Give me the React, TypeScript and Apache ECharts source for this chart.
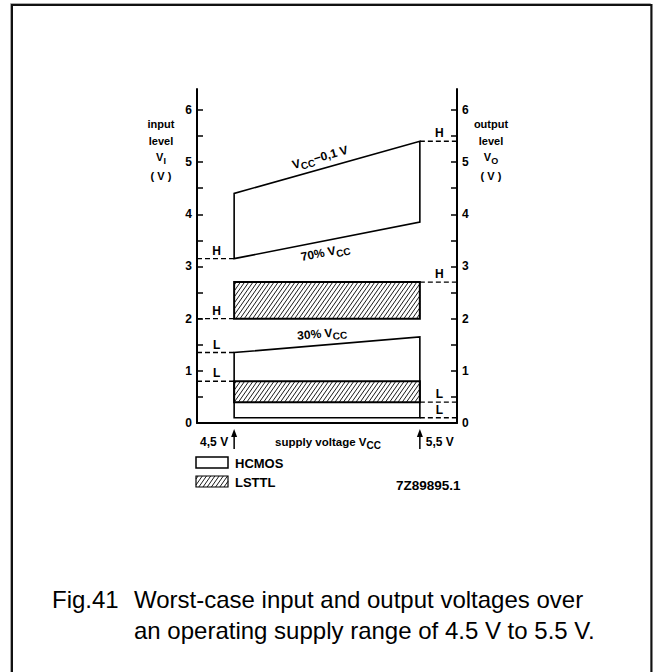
import React, { useEffect, useRef } from "react";
import * as echarts from "echarts";

// ---- data (volts) ----
const supplyVoltage = [4.5, 5.5];
const hcmosVOH = [4.4, 5.4]; // VCC - 0.1 V
const hcmosVIH = [3.15, 3.85]; // 70% VCC
const hcmosVIL = [1.35, 1.65]; // 30% VCC
const hcmosVOL = [0.1, 0.1];
const lsttlVOH = [2.7, 2.7];
const lsttlVIH = [2.0, 2.0];
const lsttlVIL = [0.8, 0.8];
const lsttlVOL = [0.4, 0.4];

const leftLevelValues = [3.15, 2.0, 1.35, 0.8];
const leftLevelLabels = ["H", "H", "L", "L"];
const rightLevelValues = [5.4, 2.7, 0.4, 0.1];
const rightLevelLabels = ["H", "H", "L", "L"];

const edgeLabels = ["{v|V}{s|CC}{v|\u22120,1 V}", "{v|70% V}{s|CC}", "{v|30% V}{s|CC}"];
const supplyLabels = ["4,5 V", "5,5 V"];

const yTickValues = [0, 0.5, 1, 1.5, 2, 2.5, 3, 3.5, 4, 4.5, 5, 5.5, 6];
const yLabelValues = [0, 1, 2, 3, 4, 5, 6];
const xRange = [4.3, 5.7];
const yRange = [0, 6.4];

const FONT = "'Liberation Sans', Arial, Helvetica, sans-serif";

function hatchLines(x0: number, y0: number, x1: number, y1: number, step: number, a: number, lw: number) {
  const out: any[] = [];
  const cStart = x0 + a * y0;
  const cEnd = x1 + a * y1;
  for (let c = cStart + step / 2; c < cEnd; c += step) {
    const xa = Math.max(x0, c - a * y1);
    const ya = (c - xa) / a;
    const xb = Math.min(x1, c - a * y0);
    const yb = (c - xb) / a;
    if (xb > xa) {
      out.push({
        type: "line",
        shape: { x1: xa, y1: ya, x2: xb, y2: yb },
        style: { stroke: "#000", lineWidth: lw },
        silent: true,
      });
    }
  }
  return out;
}

const richText = {
  v: { fontSize: 12, fontWeight: "bold", fontFamily: FONT, fill: "#000" },
  s: { fontSize: 10, fontWeight: "bold", fontFamily: FONT, fill: "#000", padding: [7, 0, 0, 0] },
};
const richSmall = {
  v: { fontSize: 11, fontWeight: "bold", fontFamily: FONT, fill: "#000" },
  s: { fontSize: 9, fontWeight: "bold", fontFamily: FONT, fill: "#000", padding: [7, 0, 0, 0] },
};

export default function App() {
  const ref = useRef<HTMLDivElement>(null);
  useEffect(() => {
    if (!ref.current) return;
    const chart = echarts.init(ref.current, null, { renderer: "svg" });

    const hcmosData = [
      [supplyVoltage[0], supplyVoltage[1], hcmosVIH[0], hcmosVIH[1], hcmosVOH[0], hcmosVOH[1]],
      [supplyVoltage[0], supplyVoltage[1], hcmosVOL[0], hcmosVOL[1], hcmosVIL[0], hcmosVIL[1]],
    ];
    const lsttlData = [
      [supplyVoltage[0], supplyVoltage[1], lsttlVIH[0], lsttlVOH[0]],
      [supplyVoltage[0], supplyVoltage[1], lsttlVOL[0], lsttlVIL[0]],
    ];
    // [xA, yA, xB, yB, labelIndex, side(1=above,-1=below)]
    const edgeData = [
      [supplyVoltage[0], hcmosVOH[0], supplyVoltage[1], hcmosVOH[1], 0, 1],
      [supplyVoltage[0], hcmosVIH[0], supplyVoltage[1], hcmosVIH[1], 1, -1],
      [supplyVoltage[0], hcmosVIL[0], supplyVoltage[1], hcmosVIL[1], 2, 1],
    ];
    const leftLevelData = leftLevelValues.map((v, i) => [supplyVoltage[0], v, i, 0]);
    const rightLevelData = rightLevelValues.map((v, i) => [supplyVoltage[1], v, i, 1]);
    const arrowData = supplyVoltage.map((v, i) => [v, 0, i]);

    const option: any = {
      animation: false,
      backgroundColor: "#fff",
      grid: { left: 197, right: 196, top: 89, bottom: 249, containLabel: false },
      xAxis: {
        type: "value",
        min: xRange[0],
        max: xRange[1],
        axisLine: { show: true, lineStyle: { color: "#000", width: 2 } },
        axisTick: { show: false },
        axisLabel: { show: false },
        splitLine: { show: false },
      },
      yAxis: [0, 1].map((k) => ({
        type: "value",
        min: yRange[0],
        max: yRange[1],
        position: k === 0 ? "left" : "right",
        axisLine: { show: true, onZero: false, lineStyle: { color: "#000", width: 2 } },
        axisTick: {
          show: true,
          inside: true,
          length: 6,
          customValues: yTickValues,
          lineStyle: { color: "#000", width: 1.5 },
        },
        axisLabel: {
          customValues: yLabelValues,
          color: "#000",
          fontWeight: "bold",
          fontSize: 12,
          fontFamily: FONT,
          margin: 5,
        },
        splitLine: { show: false },
      })),
      series: [
        {
          type: "custom",
          name: "HCMOS",
          z: 2,
          data: hcmosData,
          encode: { x: [0, 1], y: [2, 3, 4, 5] },
          renderItem: (params: any, api: any) => {
            const x0 = api.value(0), x1 = api.value(1);
            const a = api.coord([x0, api.value(2)]);
            const b = api.coord([x1, api.value(3)]);
            const c = api.coord([x1, api.value(5)]);
            const d = api.coord([x0, api.value(4)]);
            return {
              type: "polygon",
              shape: { points: [a, b, c, d] },
              style: { fill: "none", stroke: "#000", lineWidth: 1.6 },
            };
          },
        },
        {
          type: "custom",
          name: "LSTTL",
          z: 3,
          data: lsttlData,
          encode: { x: [0, 1], y: [2, 3] },
          renderItem: (params: any, api: any) => {
            const p0 = api.coord([api.value(0), api.value(3)]);
            const p1 = api.coord([api.value(1), api.value(2)]);
            const x0 = p0[0], y0 = p0[1], x1 = p1[0], y1 = p1[1];
            const children: any[] = [
              { type: "rect", shape: { x: x0, y: y0, width: x1 - x0, height: y1 - y0 }, style: { fill: "#fff", stroke: "none" } },
              ...hatchLines(x0, y0, x1, y1, 4.2, 0.7, 0.9),
              { type: "rect", shape: { x: x0, y: y0, width: x1 - x0, height: y1 - y0 }, style: { fill: "none", stroke: "#000", lineWidth: 2 } },
            ];
            return { type: "group", children };
          },
        },
        {
          type: "custom",
          name: "edgeLabels",
          z: 4,
          data: edgeData,
          encode: { x: [0, 2], y: [1, 3] },
          renderItem: (params: any, api: any) => {
            const pa = api.coord([api.value(0), api.value(1)]);
            const pb = api.coord([api.value(2), api.value(3)]);
            const mx = (pa[0] + pb[0]) / 2;
            const my = (pa[1] + pb[1]) / 2;
            const rot = Math.atan2(pa[1] - pb[1], pb[0] - pa[0]);
            const above = api.value(5) > 0;
            return {
              type: "text",
              x: mx,
              y: my,
              rotation: rot,
              style: {
                x: -4,
                y: above ? -3 : 3,
                text: edgeLabels[api.value(4)],
                rich: richText,
                align: "center",
                verticalAlign: above ? "bottom" : "top",
              },
            };
          },
        },
        ...[
          { data: leftLevelData, labels: leftLevelLabels },
          { data: rightLevelData, labels: rightLevelLabels },
        ].map((cfg) => ({
          type: "custom",
          z: 4,
          data: cfg.data,
          encode: { x: 0, y: 1 },
          renderItem: (params: any, api: any) => {
            const p = api.coord([api.value(0), api.value(1)]);
            const cs = params.coordSys;
            const right = api.value(3) === 1;
            const xs = right ? p[0] : cs.x;
            const xe = right ? cs.x + cs.width : p[0];
            return {
              type: "group",
              children: [
                {
                  type: "line",
                  shape: { x1: xs, y1: p[1], x2: xe, y2: p[1] },
                  style: { stroke: "#000", lineWidth: 1.4, lineDash: [5, 3] },
                },
                {
                  type: "text",
                  style: {
                    x: (xs + xe) / 2 + 1,
                    y: p[1] - 2,
                    text: cfg.labels[api.value(2)],
                    align: "center",
                    verticalAlign: "bottom",
                    fill: "#000",
                    fontSize: 12,
                    fontWeight: "bold",
                    fontFamily: FONT,
                  },
                },
              ],
            };
          },
        })),
        {
          type: "custom",
          name: "supplyArrows",
          z: 4,
          data: arrowData,
          encode: { x: 0, y: 1 },
          renderItem: (params: any, api: any) => {
            const p = api.coord([api.value(0), api.value(1)]);
            const i = api.value(2);
            const x = p[0];
            const top = p[1] + 6;
            const bottom = p[1] + 26;
            const left = i === 0;
            return {
              type: "group",
              children: [
                { type: "line", shape: { x1: x, y1: top + 5, x2: x, y2: bottom }, style: { stroke: "#000", lineWidth: 1.5 } },
                { type: "polygon", shape: { points: [[x, top], [x - 3, top + 8], [x + 3, top + 8]] }, style: { fill: "#000" } },
                {
                  type: "text",
                  style: {
                    x: left ? x - 6 : x + 6,
                    y: p[1] + 19,
                    text: supplyLabels[i],
                    align: left ? "right" : "left",
                    verticalAlign: "middle",
                    fill: "#000",
                    fontSize: 12,
                    fontWeight: "bold",
                    fontFamily: FONT,
                  },
                },
              ],
            };
          },
        },
      ],
      graphic: [
        { type: "rect", shape: { x: 10.5, y: 3.5, width: 640, height: 700 }, style: { fill: "none", stroke: "#aaa", lineWidth: 1 }, silent: true },
        { type: "rect", shape: { x: 12, y: 5, width: 639.5, height: 700 }, style: { fill: "none", stroke: "#111", lineWidth: 2 }, silent: true },
        // axis titles
        ...["input", "level", "{v|V}{s|I}", "( V )"].map((t, i) => ({
          type: "text",
          style: {
            x: 161, y: [124, 141, 157, 176][i], text: t, rich: richSmall, align: "center", verticalAlign: "middle",
            fill: "#000", fontSize: 11, fontWeight: "bold", fontFamily: FONT,
          },
        })),
        ...["output", "level", "{v|V}{s|O}", "( V )"].map((t, i) => ({
          type: "text",
          style: {
            x: 491, y: [124, 141, 157, 176][i], text: t, rich: richSmall, align: "center", verticalAlign: "middle",
            fill: "#000", fontSize: 11, fontWeight: "bold", fontFamily: FONT,
          },
        })),
        {
          type: "text",
          style: {
            x: 328, y: 442, text: "{t|supply voltage V}{s|CC}",
            rich: { t: { fontSize: 11.5, fontWeight: "bold", fontFamily: FONT, fill: "#000" }, s: { ...richText.s, fontSize: 10 } },
            align: "center", verticalAlign: "middle",
          },
        },
        // legend
        { type: "rect", shape: { x: 196, y: 457, width: 32, height: 11 }, style: { fill: "#fff", stroke: "#000", lineWidth: 1.5 } },
        {
          type: "text",
          style: { x: 235, y: 463, text: "HCMOS", align: "left", verticalAlign: "middle", fill: "#000", fontSize: 13, fontWeight: "bold", fontFamily: FONT },
        },
        {
          type: "group",
          children: [
            ...hatchLines(196, 476, 228, 487, 4.2, 0.7, 0.9),
            { type: "rect", shape: { x: 196, y: 476, width: 32, height: 11 }, style: { fill: "none", stroke: "#000", lineWidth: 1.2 } },
          ],
        },
        {
          type: "text",
          style: { x: 235, y: 482, text: "LSTTL", align: "left", verticalAlign: "middle", fill: "#000", fontSize: 13, fontWeight: "bold", fontFamily: FONT },
        },
        {
          type: "text",
          style: { x: 396, y: 485, text: "7Z89895.1", align: "left", verticalAlign: "middle", fill: "#000", fontSize: 13.5, fontWeight: "bold", fontFamily: FONT },
        },
        // caption
        {
          type: "text",
          style: { x: 52, y: 599, text: "Fig.41", align: "left", verticalAlign: "middle", fill: "#000", fontSize: 24, fontFamily: FONT },
        },
        {
          type: "text",
          style: { x: 134, y: 599, text: "Worst-case input and output voltages over", align: "left", verticalAlign: "middle", fill: "#000", fontSize: 24, fontFamily: FONT },
        },
        {
          type: "text",
          style: { x: 134, y: 630, text: "an operating supply range of 4.5 V to 5.5 V.", align: "left", verticalAlign: "middle", fill: "#000", fontSize: 24, fontFamily: FONT },
        },
      ],
    };
    chart.setOption(option);
    return () => chart.dispose();
  }, []);
  return <div ref={ref} style={{ position: "absolute", left: 0, top: 0, width: 653, height: 672 }} />;
}
